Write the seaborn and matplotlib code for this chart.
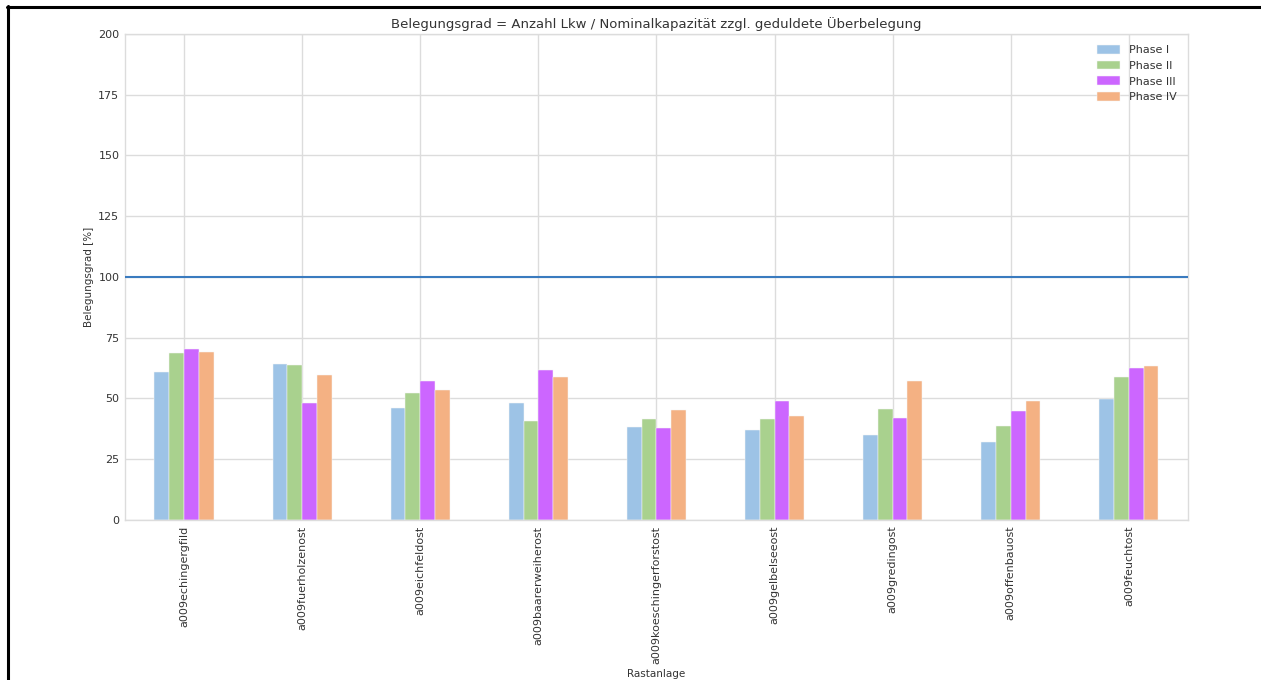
import matplotlib
matplotlib.use("Agg")
import matplotlib.pyplot as plt
from matplotlib.lines import Line2D
import seaborn as sns
import pandas as pd

# Rest areas along the A9 and occupancy per phase (percent)
rastanlagen = [
    "a009echingergfild", "a009fuerholzenost", "a009eichfeldost",
    "a009baarerweiherost", "a009koeschingerforstost", "a009gelbelseeost",
    "a009gredingost", "a009offenbauost", "a009feuchtost",
]
phasen = ["Phase I", "Phase II", "Phase III", "Phase IV"]
phase_1 = [61.0, 64.2, 46.0, 48.1, 38.1, 36.9, 34.8, 32.1, 49.9]
phase_2 = [68.7, 63.6, 52.3, 40.7, 41.7, 41.7, 45.8, 38.7, 58.8]
phase_3 = [70.2, 48.0, 57.3, 61.6, 38.0, 49.0, 42.1, 44.7, 62.7]
phase_4 = [69.1, 59.5, 53.4, 58.7, 45.3, 42.7, 57.1, 49.1, 63.2]
farben = ["#9DC3E6", "#A9D18E", "#CC66FF", "#F4B183"]
kapazitaetsgrenze = 100

rows = []
for phase, werte in zip(phasen, [phase_1, phase_2, phase_3, phase_4]):
    for anlage, wert in zip(rastanlagen, werte):
        rows.append({"Rastanlage": anlage, "Phase": phase, "Belegungsgrad": wert})
df = pd.DataFrame(rows)

sns.set_theme(style="whitegrid", rc={
    "grid.color": "#dcdcdc",
    "axes.edgecolor": "#dcdcdc",
    "axes.linewidth": 1.0,
    "grid.linewidth": 1.0,
    "text.color": "#333333",
    "axes.labelcolor": "#333333",
    "xtick.color": "#333333",
    "ytick.color": "#333333",
})
plt.rcParams["font.family"] = ["DejaVu Sans"]

fig = plt.figure(figsize=(12.61, 6.80), dpi=100)
ax = fig.add_axes([0.0991, 0.2353, 0.8430, 0.7147])

sns.barplot(
    data=df, x="Rastanlage", y="Belegungsgrad", hue="Phase",
    order=rastanlagen, hue_order=phasen, palette=farben,
    width=0.5, gap=0, edgecolor="#f6f6f6", linewidth=0.35,
    saturation=1, ax=ax, zorder=2,
)

ax.axhline(kapazitaetsgrenze, color="#3a7bbf", linewidth=1.5, zorder=3)

ax.set_ylim(0, 200)
ax.set_xlim(-0.5, len(rastanlagen) - 0.5)
ax.set_yticks(range(0, 201, 25))
ax.grid(True, axis="both", zorder=0)
ax.set_axisbelow(True)
ax.tick_params(axis="both", labelsize=8, length=0, pad=4)
plt.setp(ax.get_xticklabels(), rotation=90)

ax.set_title("Belegungsgrad = Anzahl Lkw / Nominalkapazität zzgl. geduldete Überbelegung",
             fontsize=9.5, pad=4)
ax.set_ylabel("Belegungsgrad [%]", fontsize=7.5, labelpad=3)
ax.set_xlabel("Rastanlage", fontsize=7.5, labelpad=4)

ax.legend(loc="upper right", frameon=False, fontsize=8, handlelength=2.1,
          handleheight=0.8, labelspacing=0.5, borderaxespad=0.6,
          handletextpad=0.8)

# black frame lines along the top and left edge of the figure
fig.add_artist(Line2D([7 / 1261, 1.0], [1 - 6.5 / 680, 1 - 6.5 / 680],
                      transform=fig.transFigure, color="black", linewidth=2.2))
fig.add_artist(Line2D([8 / 1261, 8 / 1261], [0.0, 1 - 5.5 / 680],
                      transform=fig.transFigure, color="black", linewidth=2.2))

fig.savefig("out.png", dpi=100)
